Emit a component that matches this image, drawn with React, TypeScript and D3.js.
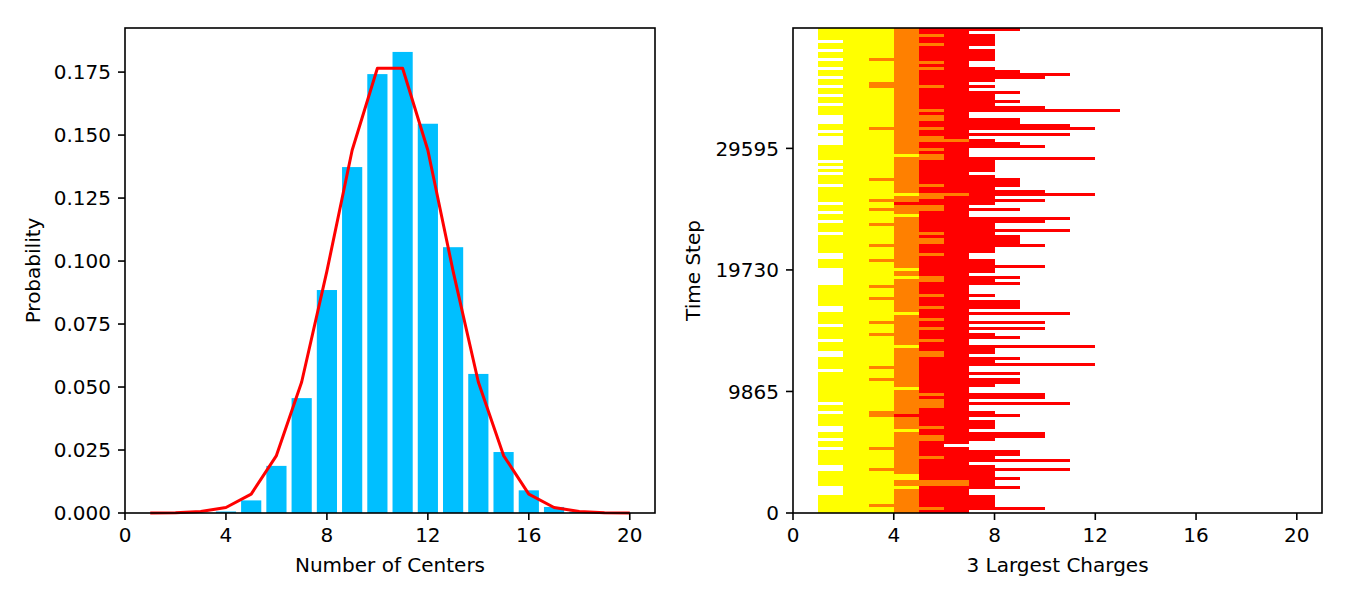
import React from "react";
import * as d3 from "d3";

// ---- Left panel: distribution of the number of centers ----
const centerCounts = [1, 2, 3, 4, 5, 6, 7, 8, 9, 10, 11, 12, 13, 14, 15, 16, 17, 18, 19, 20];
const observedProb = [
  0, 0, 0, 0.0006, 0.005, 0.0187, 0.0456, 0.0885, 0.1373, 0.1742,
  0.183, 0.1545, 0.1055, 0.0552, 0.0242, 0.009, 0.0024, 0.0005, 0, 0,
];
const fittedProb = [
  0.00001, 0.0001, 0.0006, 0.0022, 0.0075, 0.0228, 0.052, 0.096, 0.144, 0.1765,
  0.1765, 0.144, 0.096, 0.052, 0.0228, 0.0075, 0.0022, 0.0006, 0.0001, 0.00001,
];
const probTicks = [0, 0.025, 0.05, 0.075, 0.1, 0.125, 0.15, 0.175];
const chargeTicks = [0, 4, 8, 12, 16, 20];

// ---- Right panel: three largest charges over time ----
const sampleEvery = 243;
const stepTicks = [0, 9865, 19730, 29595];
// Samples listed from the latest time step down to step 0.
const lineStart = [
  1, 1, 1, 1, 2, 1, 1, 2, 1, 1, 2, 1, 1, 2, 1, 1, 2, 1, 1, 2,
  1, 1, 2, 1, 1, 2, 1, 1, 1, 2, 2, 2, 1, 1, 2, 1, 2, 2, 2, 1,
  1, 1, 1, 1, 2, 1, 2, 1, 2, 1, 1, 1, 2, 1, 1, 1, 1, 1, 2, 1,
  1, 2, 1, 1, 2, 1, 1, 1, 2, 1, 1, 1, 1, 1, 1, 2, 2, 1, 1, 1,
  2, 2, 2, 2, 2, 2, 1, 1, 1, 1, 1, 1, 1, 2, 2, 1, 1, 1, 1, 2,
  1, 1, 1, 1, 2, 1, 1, 1, 2, 2, 1, 1, 1, 1, 2, 1, 1, 1, 1, 1,
  1, 1, 1, 1, 1, 2, 1, 1, 2, 1, 1, 1, 1, 2, 2, 1, 1, 2, 1, 1,
  2, 1, 1, 1, 1, 1, 2, 2, 1, 1, 1, 1, 1, 2, 2, 2, 1, 1, 1, 1,
  1, 1,
];
const thirdLargest = [
  4, 4, 4, 4, 4, 4, 4, 4, 4, 4, 3, 4, 4, 4, 4, 4, 4, 4, 3, 3,
  4, 4, 4, 4, 4, 4, 4, 4, 4, 4, 4, 4, 4, 3, 4, 4, 4, 4, 4, 4,
  4, 4, 5, 4, 4, 4, 4, 4, 4, 4, 3, 4, 4, 4, 4, 5, 4, 3, 4, 4,
  3, 4, 5, 4, 4, 3, 4, 4, 4, 4, 4, 4, 3, 4, 4, 4, 4, 3, 4, 4,
  5, 4, 4, 5, 4, 4, 3, 4, 4, 4, 3, 4, 4, 4, 4, 5, 4, 4, 3, 4,
  4, 4, 3, 4, 4, 4, 5, 4, 4, 4, 4, 4, 4, 3, 4, 4, 4, 3, 4, 4,
  5, 4, 4, 4, 4, 4, 4, 4, 3, 3, 4, 4, 4, 4, 5, 4, 4, 4, 4, 4,
  3, 4, 4, 4, 4, 4, 4, 3, 4, 5, 5, 4, 4, 5, 4, 4, 4, 4, 4, 3,
  4, 4,
];
const secondLargest = [
  5, 5, 6, 5, 5, 6, 5, 5, 5, 5, 5, 6, 5, 6, 5, 5, 5, 5, 5, 6,
  5, 5, 5, 5, 5, 5, 5, 6, 5, 6, 6, 5, 5, 6, 5, 5, 6, 7, 5, 5,
  6, 5, 6, 6, 5, 5, 5, 5, 5, 5, 5, 5, 6, 5, 5, 7, 6, 5, 4, 6,
  6, 5, 5, 5, 5, 5, 5, 5, 6, 5, 6, 6, 5, 5, 5, 6, 5, 5, 5, 5,
  5, 5, 5, 6, 6, 5, 5, 5, 5, 6, 5, 5, 5, 6, 5, 5, 5, 6, 5, 5,
  6, 5, 5, 5, 6, 5, 5, 5, 6, 6, 5, 5, 5, 5, 5, 5, 5, 5, 5, 5,
  5, 5, 6, 5, 6, 6, 6, 5, 5, 4, 5, 5, 5, 6, 5, 5, 6, 6, 5, 5,
  5, 5, 5, 6, 5, 5, 5, 5, 5, 5, 5, 7, 7, 5, 5, 5, 5, 5, 5, 5,
  6, 5,
];
const largest = [
  9, 7, 8, 8, 8, 8, 7, 8, 8, 8, 8, 7, 7, 8, 9, 11, 10, 8, 7, 8,
  7, 9, 8, 8, 9, 8, 10, 13, 7, 7, 9, 9, 11, 12, 7, 11, 7, 8, 9, 10,
  7, 7, 7, 12, 8, 8, 8, 8, 7, 8, 9, 9, 9, 8, 10, 12, 8, 10, 8, 7,
  9, 7, 7, 11, 10, 8, 8, 11, 8, 9, 9, 9, 10, 8, 8, 7, 7, 8, 8, 10,
  8, 8, 7, 9, 8, 9, 7, 7, 7, 8, 7, 9, 9, 9, 7, 11, 7, 7, 10, 7,
  10, 7, 8, 9, 7, 7, 12, 8, 8, 7, 9, 8, 12, 7, 7, 9, 7, 9, 9, 8,
  7, 7, 10, 10, 7, 11, 7, 7, 8, 9, 7, 8, 8, 8, 7, 10, 10, 8, 7, 6,
  7, 9, 9, 8, 11, 7, 8, 11, 8, 8, 9, 8, 8, 9, 7, 7, 8, 8, 8, 8,
  10, 7,
];

const W = 1350;
const H = 600;
const TOP = 28;
const BOTTOM = 513;
const FONT = "DejaVu Sans, sans-serif";
const FS = 20;
const TICK = 7;
const PAD = 7;

function Frame({ x0, x1 }: { x0: number; x1: number }) {
  return (
    <rect x={x0} y={TOP} width={x1 - x0} height={BOTTOM - TOP} fill="none" stroke="#000" strokeWidth={1.6} />
  );
}

function XAxis({ scale, ticks }: { scale: d3.ScaleLinear<number, number>; ticks: number[] }) {
  return (
    <g>
      {ticks.map((t) => (
        <g key={t}>
          <line x1={scale(t)} x2={scale(t)} y1={BOTTOM} y2={BOTTOM + TICK} stroke="#000" strokeWidth={1.6} />
          <text x={scale(t)} y={BOTTOM + TICK + PAD + 15} textAnchor="middle" fontSize={FS} fontFamily={FONT}>
            {t}
          </text>
        </g>
      ))}
    </g>
  );
}

function YAxis({
  scale,
  ticks,
  x0,
  format,
}: {
  scale: d3.ScaleLinear<number, number>;
  ticks: number[];
  x0: number;
  format: (v: number) => string;
}) {
  return (
    <g>
      {ticks.map((t) => (
        <g key={t}>
          <line x1={x0 - TICK} x2={x0} y1={scale(t)} y2={scale(t)} stroke="#000" strokeWidth={1.6} />
          <text x={x0 - TICK - PAD} y={scale(t)} dy="0.36em" textAnchor="end" fontSize={FS} fontFamily={FONT}>
            {format(t)}
          </text>
        </g>
      ))}
    </g>
  );
}

export default function App() {
  // left panel scales
  const xL = d3.scaleLinear().domain([0, 21]).range([125, 655]);
  const yL = d3.scaleLinear().domain([0, 0.1925]).range([BOTTOM, TOP]);
  // right panel scales
  const xR = d3.scaleLinear().domain([0, 21]).range([793, 1322]);
  const nSamples = largest.length;
  const yR = d3.scaleLinear().domain([0, nSamples * sampleEvery]).range([BOTTOM, TOP]);

  const barW = xL(0.8) - xL(0);
  const fitLine = d3
    .line<number>()
    .x((_, i) => xL(centerCounts[i]))
    .y((v) => yL(v));

  const rows = largest.map((c1, i) => {
    const t = (nSamples - 1 - i) * sampleEvery;
    return {
      yTop: yR(t + sampleEvery),
      yBot: yR(t),
      start: lineStart[i],
      c3: thirdLargest[i],
      c2: secondLargest[i],
      c1,
    };
  });

  const band = (r: (typeof rows)[number], end: number, color: string, key: string) => (
    <rect
      key={key}
      x={xR(r.start)}
      y={r.yTop}
      width={Math.max(0, xR(end) - xR(r.start))}
      height={r.yBot - r.yTop}
      fill={color}
      shapeRendering="crispEdges"
    />
  );

  return (
    <svg
      width={W}
      height={H}
      style={{ position: "absolute", left: 0, top: 0, background: "#fff" }}
      xmlns="http://www.w3.org/2000/svg"
    >
      <rect x={0} y={0} width={W} height={H} fill="#fff" />

      {/* Left panel */}
      <g>
        {observedProb.map((v, i) => (
          <rect
            key={i}
            x={xL(centerCounts[i] - 0.4)}
            y={yL(v)}
            width={barW}
            height={yL(0) - yL(v)}
            fill="#00bfff"
          />
        ))}
        <path d={fitLine(fittedProb) || ""} fill="none" stroke="#ff0000" strokeWidth={3} strokeLinejoin="round" />
        <Frame x0={125} x1={655} />
        <XAxis scale={xL} ticks={chargeTicks} />
        <YAxis scale={yL} ticks={probTicks} x0={125} format={(v) => v.toFixed(3)} />
        <text x={xL(10.5)} y={572} textAnchor="middle" fontSize={FS} fontFamily={FONT}>
          Number of Centers
        </text>
        <text
          transform={`translate(40, ${(TOP + BOTTOM) / 2}) rotate(-90)`}
          textAnchor="middle"
          fontSize={FS}
          fontFamily={FONT}
        >
          Probability
        </text>
      </g>

      {/* Right panel */}
      <g>
        {rows.map((r, i) => band(r, r.c1, "#ff0000", `r${i}`))}
        {rows.map((r, i) => band(r, r.c2, "#ff8000", `o${i}`))}
        {rows.map((r, i) => band(r, r.c3, "#ffff00", `y${i}`))}
        <Frame x0={793} x1={1322} />
        <XAxis scale={xR} ticks={chargeTicks} />
        <YAxis scale={yR} ticks={stepTicks} x0={793} format={(v) => String(v)} />
        <text x={xR(10.5)} y={572} textAnchor="middle" fontSize={FS} fontFamily={FONT}>
          3 Largest Charges
        </text>
        <text
          transform={`translate(700, ${(TOP + BOTTOM) / 2}) rotate(-90)`}
          textAnchor="middle"
          fontSize={FS}
          fontFamily={FONT}
        >
          Time Step
        </text>
      </g>
    </svg>
  );
}
